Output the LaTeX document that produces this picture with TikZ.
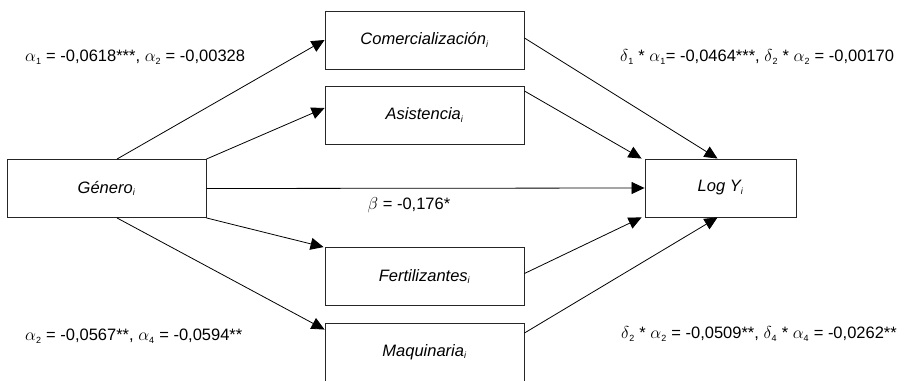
\documentclass[tikz,border=0pt]{standalone}
\usepackage{fontspec}
\setmainfont{Liberation Sans}
\usetikzlibrary{arrows.meta,calc}
\newcommand{\sbx}[1]{\textsubscript{\fontsize{9}{10}\selectfont #1}}
\begin{document}
\begin{tikzpicture}[x=1pt,y=-1pt,
  box/.style={draw=black!85,line width=0.9pt,minimum width=199pt,minimum height=58pt,inner sep=0pt,font=\fontsize{16.5}{19}\selectfont\itshape},
  conn/.style={draw=black,line width=0.8pt,-{Triangle[length=13pt,width=12pt]}},
  lbl/.style={font=\fontsize{16.5}{19}\selectfont,inner sep=0pt}]
\useasboundingbox (0,0) rectangle (904,380);
\node[box] (gen) at (106.5,188.5) {Género\sbx{i}};
\node[box] (com) at (424.5,40) {Comercialización\sbx{i}};
\node[box] (asi) at (424.5,115) {Asistencia\sbx{i}};
\node[box] (fer) at (424.5,276.5) {Fertilizantes\sbx{i}};
\node[box] (maq) at (424.5,352) {Maquinaria\sbx{i}};
\node[box,minimum width=151pt] (logy) at (720.5,188) {Log Y\sbx{i}};
% left connectors
\draw[conn] ($(gen.north)+(10.5,0)$) -- ($(com.west)+(0,0)$);
\draw[conn] (gen.north east) -- ($(asi.west)+(0,-7)$);
\draw[conn] (gen.east) -- (logy.west);
\draw[conn] (gen.south east) -- ($(fer.north west)+(-1,0)$);
\draw[conn] ($(gen.south)+(10.5,0)$) -- ($(maq.north west)+(0,7)$);
% right connectors
\draw[conn] ($(com.east)+(0,-2)$) -- ($(logy.north)+(-3,0)$);
\draw[conn] ($(asi.east)+(0,-24)$) -- ($(logy.north west)+(-3,0)$);
\draw[conn] ($(fer.east)+(0,-3)$) -- ($(logy.south west)+(-3,0)$);
\draw[conn] ($(maq.east)+(0,-19)$) -- ($(logy.south)+(-3,0)$);
% labels
\node[lbl,anchor=west] (l1) at (25,57) {$\alpha$\sbx{1} = -0,0618***, $\alpha$\sbx{2} = -0,00328};
\node[lbl,anchor=west] (l2) at (620,57) {$\delta$\sbx{1} * $\alpha$\sbx{1}= -0,0464***, $\delta$\sbx{2} * $\alpha$\sbx{2} = -0,00170};
\node[lbl] (l3) at (409,205) {$\beta$ = -0,176*};
\node[lbl,anchor=west] (l4) at (25,336) {$\alpha$\sbx{2} = -0,0567**, $\alpha$\sbx{4} = -0,0594**};
\node[lbl,anchor=west] (l5) at (621,334) {$\delta$\sbx{2} * $\alpha$\sbx{2} = -0,0509**, $\delta$\sbx{4} * $\alpha$\sbx{4} = -0,0262**};
\end{tikzpicture}
\end{document}
